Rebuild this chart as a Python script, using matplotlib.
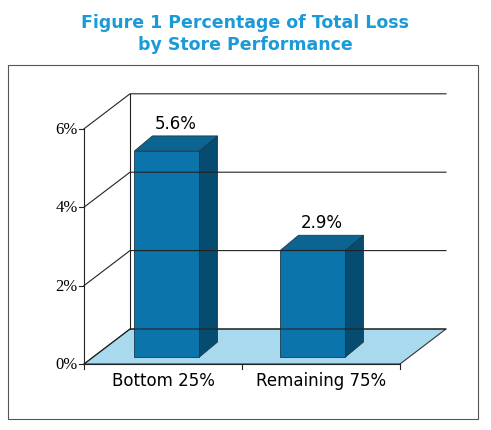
import matplotlib.pyplot as plt
from matplotlib.patches import Polygon, Rectangle

categories = ['Bottom 25%', 'Remaining 75%']
values = [5.6, 2.9]
value_labels = ['5.6%', '2.9%']
ticks = [0, 2, 4, 6]
tick_labels = ['0%', '2%', '4%', '6%']

W, H = 491, 431
fig = plt.figure(figsize=(W / 100, H / 100), dpi=100)
ax = fig.add_axes([0, 0, 1, 1])
ax.set_xlim(0, W)
ax.set_ylim(H, 0)
ax.axis('off')

# layout in pixels
y0 = 365          # 0% on the front plane
scale = 39.2      # px per 1% on the wall
bar_scale = 36.8  # px per 1% for bars (they sit further back)
xl, xr = 84, 400  # front edge of floor
ddx, ddy = 46, -35  # depth of back wall
bx, by = 18, -15    # bar depth

def py(v):
    return y0 - v * scale

ax.text(W / 2, 14, 'Figure 1 Percentage of Total Loss\nby Store Performance', ha='center',
        va='top', fontsize=12.5, fontweight='bold', color='#1a9bd7', linespacing=1.3)
ax.add_patch(Rectangle((8, 66), 470, 354, fill=False, ec='#555555', lw=0.8))

# floor
ax.add_patch(Polygon([(xl, y0), (xr, y0), (xr + ddx, y0 + ddy), (xl + ddx, y0 + ddy)],
                     closed=True, fc='#a9d9ef', ec='#333333', lw=0.8))
# back wall gridlines and side wall
for t in ticks:
    yy = py(t)
    ax.plot([xl, xl + ddx, xr + ddx], [yy, yy + ddy, yy + ddy], color='#222222', lw=0.8)
ax.plot([xl + ddx, xl + ddx], [py(0) + ddy, py(6) + ddy], color='#222222', lw=0.8)
ax.plot([xl, xl], [py(0), py(6)], color='#222222', lw=0.8)
for t, lab in zip(ticks, tick_labels):
    ax.plot([xl - 5, xl], [py(t), py(t)], color='#222222', lw=0.8)
    ax.text(xl - 6, py(t), lab, ha='right', va='center', fontsize=12, family='Liberation Serif')

# bars
bar_w = 65
centers = [xl + (xr - xl) * 0.25 + 4, xl + (xr - xl) * 0.75 - 8]
for c, v, lab in zip(centers, values, value_labels):
    x1, x2 = c - bar_w / 2, c + bar_w / 2
    yb, yt = y0 - 7, y0 - 7 - v * bar_scale
    ax.add_patch(Polygon([(x1, yb), (x2, yb), (x2, yt), (x1, yt)], fc='#0a74ab', ec='#1b3a4a', lw=0.6))
    ax.add_patch(Polygon([(x2, yb), (x2 + bx, yb + by), (x2 + bx, yt + by), (x2, yt)],
                         fc='#064c70', ec='#1b3a4a', lw=0.6))
    ax.add_patch(Polygon([(x1, yt), (x2, yt), (x2 + bx, yt + by), (x1 + bx, yt + by)],
                         fc='#0b6590', ec='#1b3a4a', lw=0.6))
    ax.text((x1 + x2) / 2 + bx / 2, yt + by - 4, lab, ha='center', va='bottom',
            fontsize=12, family='DejaVu Sans')

# category axis
ax.plot([xl, xr], [y0, y0], color='#222222', lw=0.8)
for xt in [xl, (xl + xr) / 2, xr]:
    ax.plot([xt, xt], [y0, y0 + 5], color='#222222', lw=0.8)
for c, cat in zip([xl + (xr - xl) * 0.25, xl + (xr - xl) * 0.75], categories):
    ax.text(c, y0 + 7, cat, ha='center', va='top', fontsize=12, family='DejaVu Sans')

fig.savefig('out.png', dpi=100)
